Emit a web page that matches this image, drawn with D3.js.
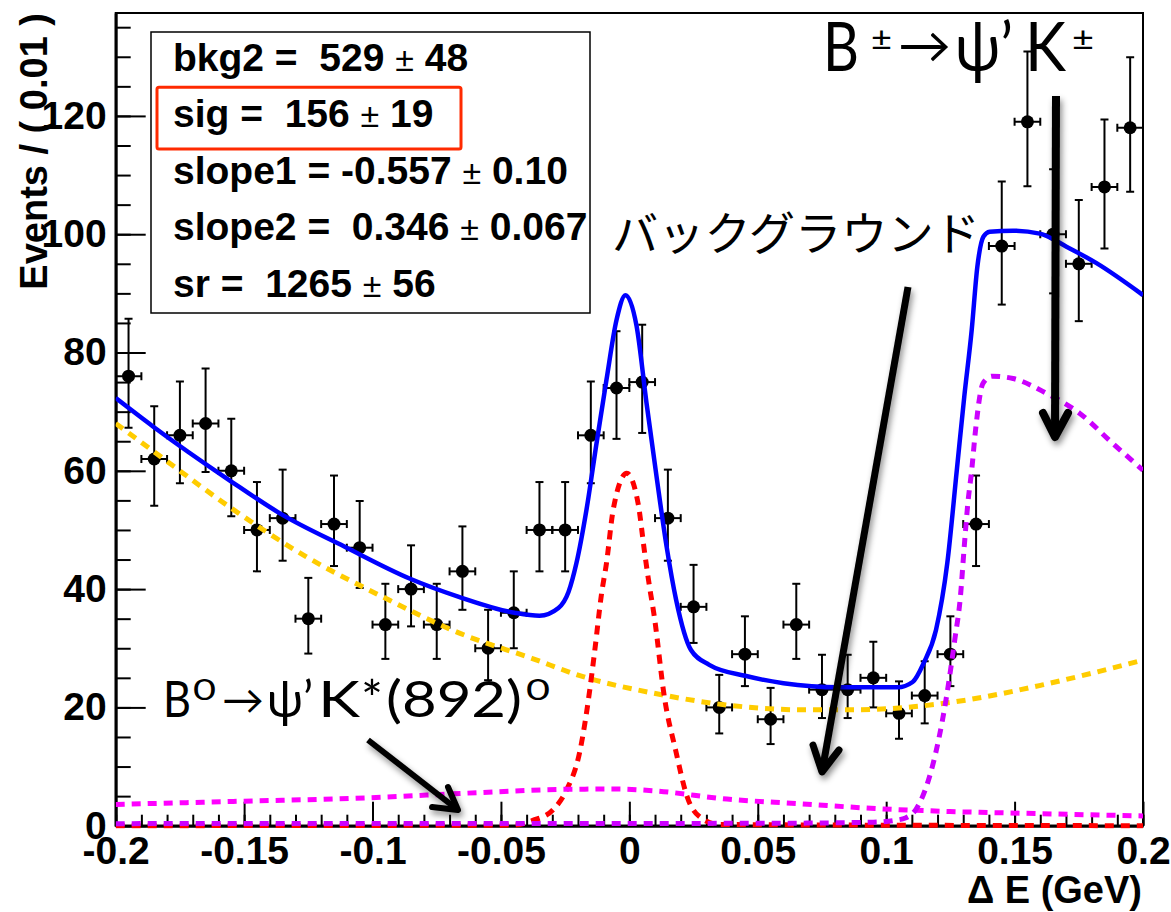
<!DOCTYPE html>
<html>
<head>
<meta charset="utf-8">
<script src="https://cdn.jsdelivr.net/npm/d3@7"></script>
<style>
  body { margin: 0; background: #fff; }
  svg { display: block; }
</style>
</head>
<body>
<div id="mainwindow"></div>
<script>
// Delta E fit plot, B -> psi' K

// bins (centers, 0.01 wide) and counts
const binCenters = [-0.195, -0.185, -0.175, -0.165, -0.155, -0.145, -0.135, -0.125, -0.115, -0.105,
  -0.095, -0.085, -0.075, -0.065, -0.055, -0.045, -0.035, -0.025, -0.015, -0.005,
  0.005, 0.015, 0.025, 0.035, 0.045, 0.055, 0.065, 0.075, 0.085, 0.095,
  0.105, 0.115, 0.125, 0.135, 0.145, 0.155, 0.165, 0.175, 0.185, 0.195];
const counts = [76, 62, 66, 68, 60, 50, 52, 35, 51, 47,
  34, 40, 34, 43, 30, 36, 50, 50, 66, 74,
  75, 52, 37, 20, 29, 18, 34, 23, 23, 25,
  19, 22, 29, 51, 98, 119, 100, 95, 108, 118];
// asymmetric (poisson) error bars
const errLow = [8.7, 7.9, 8.1, 8.2, 7.7, 7.0, 7.2, 5.9, 7.1, 6.8,
  5.8, 6.3, 5.8, 6.5, 5.4, 6.0, 7.0, 7.0, 8.1, 8.6,
  8.6, 7.2, 6.1, 4.4, 5.4, 4.2, 5.8, 4.8, 4.8, 5.0,
  4.3, 4.7, 5.4, 7.1, 9.9, 10.9, 10.0, 9.7, 10.4, 10.8];
const errHigh = [9.7, 8.9, 9.1, 9.3, 8.8, 8.1, 8.2, 6.9, 8.2, 7.9,
  6.9, 7.4, 6.9, 7.6, 6.5, 7.0, 8.1, 8.1, 9.1, 9.6,
  9.7, 8.2, 7.1, 5.5, 6.4, 5.3, 6.9, 5.9, 5.9, 6.1,
  5.4, 5.8, 6.4, 8.2, 10.9, 11.9, 11.0, 10.8, 11.4, 11.9];

// fit curves [dE, events]
const totalFit = [[-0.2, 72.3], [-0.1855, 67.5], [-0.1557, 58.4], [-0.1349, 52.5], [-0.111, 47.2],
  [-0.0856, 41.8], [-0.0664, 38.7], [-0.0447, 36.0], [-0.035, 35.5], [-0.0276, 36.8],
  [-0.0237, 39.5], [-0.0206, 44.4], [-0.0167, 53.4], [-0.0128, 64.6], [-0.0089, 75.4],
  [-0.005, 85.5], [-0.0015, 89.7], [0.0028, 84.5], [0.0067, 71.4], [0.0106, 59],
  [0.0145, 47.2], [0.0182, 38.2], [0.024, 29.7], [0.0311, 27.2], [0.0455, 25.3],
  [0.06, 24.1], [0.0816, 23.4], [0.1045, 23.4], [0.1103, 24.3], [0.1146, 27.5],
  [0.1194, 33.1], [0.1238, 44.4], [0.1275, 60.1], [0.1304, 72.5], [0.1333, 83.8],
  [0.1355, 94.5], [0.1379, 99.6], [0.1403, 100.4], [0.1494, 100.6], [0.1598, 100.1],
  [0.1702, 97.9], [0.1819, 95.1], [0.2, 89.7]];
const combBkg = [[-0.2, 68.0], [-0.1825, 62.4], [-0.1557, 53.9], [-0.1259, 45.5], [-0.0961, 38.7],
  [-0.0664, 32.6], [-0.038, 28.3], [-0.018, 25.2], [0.0095, 22.4], [0.038, 20.4],
  [0.0671, 19.6], [0.0887, 19.6], [0.1104, 20.1], [0.132, 21.3], [0.1608, 23.8], [0.2, 28]];
const sigPdf = [[-0.2, 0], [-0.045, 0.1], [-0.0376, 0.9], [-0.0297, 2.7], [-0.0245, 6.0],
  [-0.0193, 12.5], [-0.0154, 23], [-0.0135, 29.5], [-0.0108, 39.3], [-0.0089, 44.4],
  [-0.0063, 53.4], [-0.001, 59.6], [0.0034, 54.5], [0.006, 46], [0.008, 40],
  [0.0095, 36], [0.0138, 21.3], [0.018, 12.8], [0.0225, 4.9], [0.028, 1.3],
  [0.035, 0.2], [0.2, 0]];
const kstarBkg = [[-0.2, 3.6], [-0.1543, 4.1], [-0.1023, 4.7], [-0.0634, 5.5], [-0.0245, 6.15],
  [-0.005, 6.2], [0.0095, 5.9], [0.038, 4.5], [0.0671, 3.7], [0.0959, 2.9],
  [0.1248, 2.4], [0.1536, 2.1], [0.2, 1.65]];
const chargedBkg = [[-0.2, 0.35], [0.05, 0.4], [0.095, 0.6], [0.1032, 0.9], [0.1075, 1.3],
  [0.1118, 2.9], [0.1161, 7.2], [0.1204, 14.5], [0.1233, 21.3], [0.1267, 31.4],
  [0.1289, 38.7], [0.1304, 47.2], [0.1318, 54.5], [0.1333, 60.1], [0.1348, 66.9],
  [0.1377, 74.8], [0.1413, 76.0], [0.1494, 75.6], [0.1624, 73.1], [0.1754, 69.7],
  [0.1883, 64.6], [0.2, 60.1]];

// axes
const xTicks = [-0.2, -0.15, -0.1, -0.05, 0, 0.05, 0.1, 0.15, 0.2];
const xTickLabels = ["-0.2", "-0.15", "-0.1", "-0.05", "0", "0.05", "0.1", "0.15", "0.2"];
const yTicks = [0, 20, 40, 60, 80, 100, 120];
const yTickLabels = ["0", "20", "40", "60", "80", "100", "120"];

// fit parameter box
const parNames = ["bkg2", "sig", "slope1", "slope2", "sr"];
const parValues = ["529", "156", "-0.557", "0.346", "1265"];
const parErrors = ["48", "19", "0.10", "0.067", "56"];

const width = 1171, height = 912;
const plotL = 115.7, plotR = 1143, plotT = 13, plotB = 825.7;
const boldFont = "'Liberation Sans', Arial, Helvetica, sans-serif";
const annFont = "Lato, 'DejaVu Sans', sans-serif";

const svg = d3.select("#mainwindow")
  .append("svg")
  .attr("width", width)
  .attr("height", height);

const defs = svg.append("defs");
defs.append("clipPath").attr("id", "plotclip")
  .append("rect")
  .attr("x", plotL).attr("y", plotT)
  .attr("width", plotR - plotL).attr("height", plotB - plotT + 3);
defs.append("filter").attr("id", "shadow")
  .attr("x", "-30%").attr("y", "-30%").attr("width", "160%").attr("height", "160%")
  .append("feDropShadow")
  .attr("dx", 2).attr("dy", 4).attr("stdDeviation", 3)
  .attr("flood-color", "#000").attr("flood-opacity", 0.45);

const x = d3.scaleLinear().domain([-0.2, 0.2]).range([plotL, plotR]);
const y = d3.scaleLinear().domain([0, 137.4]).range([plotB, plotT]);

svg.append("rect").attr("width", width).attr("height", height).attr("fill", "#fff");

// frame
svg.append("rect")
  .attr("x", plotL).attr("y", plotT)
  .attr("width", plotR - plotL).attr("height", plotB - plotT)
  .attr("fill", "none").attr("stroke", "#000").attr("stroke-width", 2);

// x axis - ROOT style ticks go inside
const xMinor = d3.range(-20, 21).map(i => i / 100);
svg.append("g")
  .attr("transform", `translate(0,${plotB})`)
  .call(d3.axisBottom(x).tickValues(xMinor).tickSize(-11).tickFormat(""))
  .call(g => g.select(".domain").remove())
  .selectAll("line").attr("stroke-width", 2);

const xAxisG = svg.append("g")
  .attr("transform", `translate(0,${plotB})`)
  .call(d3.axisBottom(x).tickValues(xTicks)
    .tickFormat((d, i) => xTickLabels[i])
    .tickSizeInner(-24).tickSizeOuter(0).tickPadding(11));
xAxisG.select(".domain").attr("stroke-width", 3);
xAxisG.selectAll("line").attr("stroke-width", 2);
xAxisG.selectAll("text")
  .attr("font-family", boldFont).attr("font-weight", "bold")
  .attr("font-size", 39).attr("fill", "#000");

// y axis
const yMinor = d3.range(0, 140, 5);
svg.append("g")
  .attr("transform", `translate(${plotL},0)`)
  .call(d3.axisLeft(y).tickValues(yMinor).tickSize(-15).tickFormat(""))
  .call(g => g.select(".domain").remove())
  .selectAll("line").attr("stroke-width", 2);

const yAxisG = svg.append("g")
  .attr("transform", `translate(${plotL},0)`)
  .call(d3.axisLeft(y).tickValues(yTicks)
    .tickFormat((d, i) => yTickLabels[i])
    .tickSizeInner(-30).tickSizeOuter(0).tickPadding(9));
yAxisG.select(".domain").attr("stroke-width", 3);
yAxisG.selectAll("line").attr("stroke-width", 2);
yAxisG.selectAll("text")
  .attr("font-family", boldFont).attr("font-weight", "bold")
  .attr("font-size", 39).attr("fill", "#000");

// axis titles
svg.append("text")
  .attr("transform", `translate(47,${plotT}) rotate(-90)`)
  .attr("text-anchor", "end")
  .attr("font-family", boldFont).attr("font-weight", "bold").attr("font-size", 38)
  .text("Events / ( 0.01 )");
svg.append("text")
  .attr("x", 1142).attr("y", 903)
  .attr("text-anchor", "end")
  .attr("font-family", boldFont).attr("font-weight", "bold").attr("font-size", 38)
  .text("\u0394 E (GeV)");

// data points with error bars
const halfBin = 0.005;
const pts = svg.append("g").attr("clip-path", "url(#plotclip)")
  .selectAll("g")
  .data(binCenters.map((c, i) => ({ c, n: counts[i], lo: errLow[i], hi: errHigh[i] })))
  .join("g")
  .attr("stroke", "#000").attr("stroke-width", 2);
pts.append("line")
  .attr("x1", d => x(d.c)).attr("x2", d => x(d.c))
  .attr("y1", d => y(d.n - d.lo)).attr("y2", d => y(d.n + d.hi));
pts.append("line")
  .attr("x1", d => x(d.c - halfBin)).attr("x2", d => x(d.c + halfBin))
  .attr("y1", d => y(d.n)).attr("y2", d => y(d.n));
// caps
[d => d.n - d.lo, d => d.n + d.hi].forEach(f => {
  pts.append("line")
    .attr("x1", d => x(d.c) - 4).attr("x2", d => x(d.c) + 4)
    .attr("y1", d => y(f(d))).attr("y2", d => y(f(d)));
});
[-halfBin, halfBin].forEach(off => {
  pts.append("line")
    .attr("x1", d => x(d.c + off)).attr("x2", d => x(d.c + off))
    .attr("y1", d => y(d.n) - 4).attr("y2", d => y(d.n) + 4);
});
pts.append("circle")
  .attr("cx", d => x(d.c)).attr("cy", d => y(d.n))
  .attr("r", 6.5).attr("fill", "#000").attr("stroke", "none");

// curves
const line = d3.line()
  .x(d => x(d[0])).y(d => y(d[1]))
  .curve(d3.curveMonotoneX);
const curves = svg.append("g").attr("clip-path", "url(#plotclip)").attr("fill", "none");
curves.append("path").datum(totalFit)
  .attr("d", line).attr("stroke", "#0000ff").attr("stroke-width", 4.5);
const dotted = [
  [combBkg, "#ffcc00"],
  [sigPdf, "#ff0000"],
  [kstarBkg, "#ff00ff"],
  [chargedBkg, "#cc00ff"]
];
dotted.forEach(([data, col]) => {
  curves.append("path").datum(data)
    .attr("d", line)
    .attr("stroke", col).attr("stroke-width", 5)
    .attr("stroke-dasharray", "9,7");
});

// fit parameter box
svg.append("rect")
  .attr("x", 151).attr("y", 32).attr("width", 439).attr("height", 281)
  .attr("fill", "#fff").attr("stroke", "#000").attr("stroke-width", 1.5);
const parText = svg.append("g")
  .attr("font-family", boldFont).attr("font-weight", "bold").attr("font-size", 39);
parNames.forEach((name, i) => {
  const v = parValues[i];
  const t = parText.append("text")
    .attr("x", 173).attr("y", 70.7 + i * 56.5)
    .attr("xml:space", "preserve")
    .style("white-space", "pre");
  t.append("tspan").text(name + " = " + (v.startsWith("-") ? "" : " ") + v + " ");
  t.append("tspan").attr("font-weight", "normal").attr("font-size", 34).text("\u00b1");
  t.append("tspan").text(" " + parErrors[i]);
});
// highlight on sig
svg.append("rect")
  .attr("x", 157).attr("y", 87.3).attr("width", 304).attr("height", 61.7).attr("rx", 2)
  .attr("fill", "none").attr("stroke", "#ff2a00").attr("stroke-width", 3);

// annotations, each glyph group placed by hand
const ann = svg.append("g").attr("font-family", annFont).attr("fill", "#000");
function piece(tx, ty, size, str, len) {
  ann.append("text").attr("x", tx).attr("y", ty).attr("font-size", size)
    .attr("textLength", len).attr("lengthAdjust", "spacingAndGlyphs")
    .text(str);
}
// B+- -> psi' K+-
piece(823, 71, 67, "B", 36);
piece(871, 50, 32, "\u00b1", 21);
piece(898, 63, 50, "\u2192", 53);
piece(955, 71, 67, "\u03c8\u2019", 58);
piece(1025, 71, 67, "K", 41);
piece(1072, 50, 32, "\u00b1", 22);
// B0 -> psi' K*(892)0
piece(163, 716.7, 51, "B", 28);
piece(193, 700, 28, "0", 23);
piece(222, 714, 40, "\u2192", 42);
piece(267, 716.7, 51, "\u03c8\u2019", 46);
piece(318, 716.7, 51, "K", 42);
piece(361, 716.7, 51, "*", 22);
piece(386, 716.7, 51, "(892)", 136);
piece(526, 700, 28, "0", 24);
// background label
svg.append("text")
  .attr("x", 612).attr("y", 250)
  .attr("font-family", "'Noto Sans CJK JP', sans-serif").attr("font-size", 46)
  .attr("textLength", 368).attr("lengthAdjust", "spacingAndGlyphs")
  .text("バックグラウンド");

// arrows with a soft shadow
const arrows = [
  { from: [368, 740], to: [458, 810], arms: [[448, 787], [432, 807]], w: 6 },
  { from: [908, 287], to: [822, 772], arms: [[813, 745], [839, 750]], w: 7 },
  { from: [1056, 96], to: [1055, 437], arms: [[1043, 413], [1068, 413]], w: 8 }
];
const arrowG = svg.append("g").attr("filter", "url(#shadow)")
  .attr("stroke", "#000").attr("fill", "none").attr("stroke-linecap", "round").attr("stroke-linejoin", "round");
arrows.forEach(a => {
  arrowG.append("line")
    .attr("x1", a.from[0]).attr("y1", a.from[1])
    .attr("x2", a.to[0]).attr("y2", a.to[1])
    .attr("stroke-width", a.w).attr("stroke-linecap", "butt");
  arrowG.append("polyline")
    .attr("points", [a.arms[0], a.to, a.arms[1]].map(p => p.join(",")).join(" "))
    .attr("stroke-width", a.w);
});
</script>
</body>
</html>
